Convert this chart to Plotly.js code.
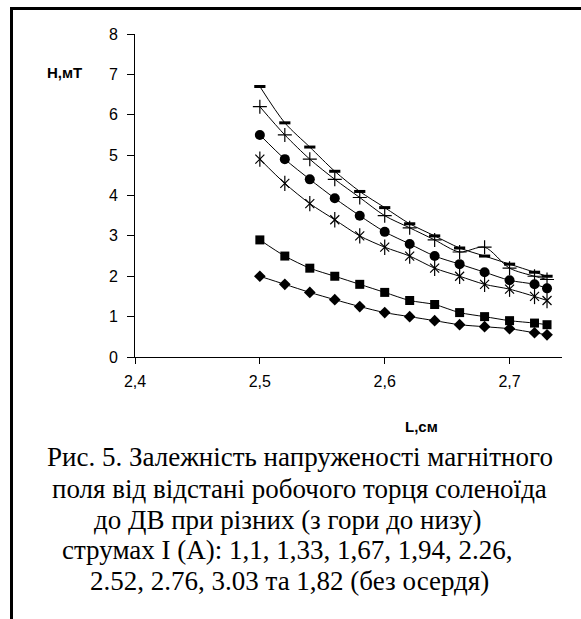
<!DOCTYPE html>
<html>
<head>
<meta charset="utf-8">
<script src="https://cdn.plot.ly/plotly-3.0.1.min.js"></script>
<style>
html,body{margin:0;padding:0;background:#fff;}
#chart{width:581px;height:619px;}
</style>
</head>
<body>
<div id="chart"></div>
<script>
// distance L, cm
const L = [2.5, 2.52, 2.54, 2.56, 2.58, 2.6, 2.62, 2.64, 2.66, 2.68, 2.7, 2.72, 2.73];
// field H, mT (top to bottom)
const H_dash    = [6.7, 5.8, 5.2, 4.6, 4.1, 3.7, 3.3, 3.0, 2.7, 2.5, 2.3, 2.1, 2.0];
const H_plus    = [6.2, 5.5, 4.9, 4.4, 3.95, 3.5, 3.2, 2.9, 2.6, 2.72, 2.2, 2.0, 1.92];
const H_circle  = [5.5, 4.9, 4.4, 3.93, 3.5, 3.1, 2.8, 2.5, 2.3, 2.1, 1.9, 1.8, 1.7];
const H_star    = [4.9, 4.3, 3.8, 3.4, 3.0, 2.72, 2.5, 2.2, 2.0, 1.8, 1.68, 1.5, 1.4];
const H_square  = [2.9, 2.5, 2.2, 2.0, 1.8, 1.6, 1.4, 1.3, 1.1, 1.0, 0.9, 0.84, 0.8];
const H_diamond = [2.0, 1.8, 1.6, 1.42, 1.25, 1.1, 1.0, 0.9, 0.8, 0.75, 0.7, 0.6, 0.55];

const yTitle = "H,мТ";
const xTitle = "L,см";
const caption = [
  "Рис. 5. Залежність напруженості магнітного",
  "поля від відстані робочого торця соленоїда",
  "до ДВ при різних (з гори до низу)",
  "струмах І (А): 1,1, 1,33, 1,67, 1,94, 2.26,",
  "2.52, 2.76, 3.03 та 1,82 (без осердя)"
];

// plot area geometry (px)
const W = 581, Hh = 619;
const PL = 135, PR = 562, PT = 34, PB = 357;
const px = x => (x - PL) / (PR - PL);
const py = y => (PB - y) / (PB - PT);

function series(y, symbol, size, lw, withLine) {
  return {
    x: L, y: y, type: 'scatter',
    mode: withLine ? 'lines+markers' : 'markers',
    line: {color: '#000', width: 1, shape: 'spline', smoothing: 0.8},
    marker: {symbol: symbol, size: size, color: '#000', line: {color: '#000', width: lw}},
    showlegend: false, hoverinfo: 'skip'
  };
}

const data = [
  series(H_dash, 'line-ew-open', 8, 3, true),
  series(H_plus, 'cross-thin-open', 10, 1.2, true),
  series(H_circle, 'circle', 10, 0, true),
  series(H_star, 'x-thin-open', 9, 1.2, true),
  series(H_star, 'line-ns-open', 11, 1.2, false),
  series(H_square, 'square', 9, 0, true),
  series(H_diamond, 'diamond', 9, 0, true)
];

const capCenters = [300, 299, 288, 287, 289];
const capY = [457, 489, 520, 550, 581];
const annotations = [
  {text: '<b>' + yTitle + '</b>', xref: 'paper', yref: 'paper', x: px(64), y: py(72),
   showarrow: false, xanchor: 'center', yanchor: 'middle',
   font: {family: 'Liberation Sans, Arial', size: 15, color: '#000'}},
  {text: '<b>' + xTitle + '</b>', xref: 'paper', yref: 'paper', x: px(421), y: py(426),
   showarrow: false, xanchor: 'center', yanchor: 'middle',
   font: {family: 'Liberation Sans, Arial', size: 15, color: '#000'}}
];
caption.forEach((t, i) => annotations.push({
  text: t, xref: 'paper', yref: 'paper', x: px(capCenters[i]), y: py(capY[i]),
  showarrow: false, xanchor: 'center', yanchor: 'middle',
  font: {family: 'Liberation Serif, Times New Roman', size: 27, color: '#000'}
}));

const layout = {
  width: W, height: Hh,
  margin: {l: PL, r: W - PR, t: PT, b: Hh - PB, pad: 0},
  paper_bgcolor: '#fff', plot_bgcolor: '#fff',
  separators: ', ',
  font: {family: 'Liberation Sans, Arial', size: 16, color: '#000'},
  xaxis: {
    range: [2.4, 2.742], tick0: 2.4, dtick: 0.1, tickformat: '.1f',
    showgrid: false, zeroline: false, showline: true, linecolor: '#000', linewidth: 1,
    ticks: 'outside', ticklen: 6, tickcolor: '#000', tickwidth: 1,
    tickfont: {size: 16}, ticklabelstandoff: 4, fixedrange: true
  },
  yaxis: {
    range: [0, 8], tick0: 0, dtick: 1,
    showgrid: false, zeroline: false, showline: true, linecolor: '#000', linewidth: 1,
    ticks: 'outside', ticklen: 7, tickcolor: '#000', tickwidth: 1,
    tickfont: {size: 16}, ticklabelstandoff: 6, fixedrange: true
  },
  annotations: annotations,
  shapes: [
    {type: 'path', xref: 'paper', yref: 'paper',
     path: 'M ' + px(11.5) + ' ' + py(625) + ' L ' + px(11.5) + ' ' + py(8.5) + ' L ' + px(590) + ' ' + py(8.5),
     line: {color: '#000', width: 3}}
  ]
};

Plotly.newPlot('chart', data, layout, {staticPlot: true, displayModeBar: false});
</script>
</body>
</html>
